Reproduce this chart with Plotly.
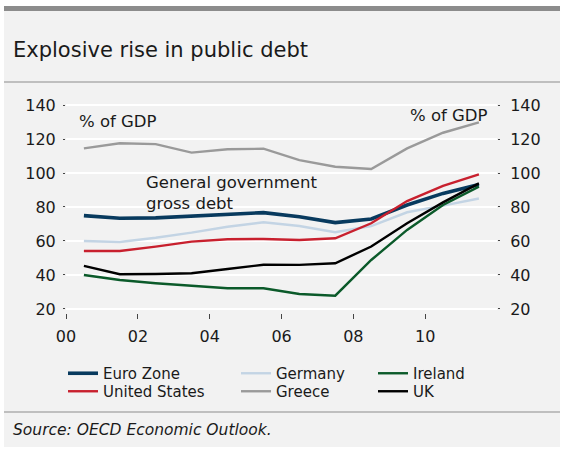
import plotly.graph_objects as go

years = [2000, 2001, 2002, 2003, 2004, 2005, 2006, 2007, 2008, 2009, 2010, 2011]
euro_zone = [74.9, 73.4, 73.6, 74.7, 75.5, 76.7, 74.3, 70.8, 72.9, 81.2, 88.0, 93.3]
germany = [60.0, 59.4, 61.9, 64.9, 68.4, 71.0, 68.8, 65.1, 68.8, 76.9, 80.8, 85.0]
ireland = [40.0, 37.0, 35.1, 33.7, 32.2, 32.2, 28.8, 27.8, 48.8, 66.5, 81.2, 92.0]
united_states = [54.1, 54.1, 56.7, 59.6, 61.0, 61.2, 60.6, 61.6, 70.4, 83.5, 92.4, 99.2]
greece = [114.5, 117.5, 117.0, 112.0, 114.0, 114.3, 107.6, 103.7, 102.4, 114.5, 123.7, 129.8]
uk = [45.3, 40.4, 40.6, 41.0, 43.5, 46.0, 45.9, 46.9, 56.7, 70.4, 82.7, 93.9]

tick_years = [2000, 2002, 2004, 2006, 2008, 2010]
tick_text = ["00", "02", "04", "06", "08", "10"]
y_ticks = [20, 40, 60, 80, 100, 120, 140]

FONT = "DejaVu Sans"
TXT = "#1a1a1a"
W, H = 573, 450
ML, MR, MT, MB = 66, 76, 102, 137
PW, PH = W - ML - MR, H - MT - MB

def px_x(px):
    return (px - ML) / PW

def px_y(py):
    return (H - MB - py) / PH

x_mid = [f"{y}-07-01" for y in years]

# name, values, colour, width, legend id, legend left px, legend top px
series = [
    ("Euro Zone", euro_zone, "#083a5e", 3.6, "legend", 63, 357),
    ("Germany", germany, "#c3d4e4", 2.4, "legend2", 236, 357),
    ("Ireland", ireland, "#0b5a2a", 2.4, "legend3", 373, 357),
    ("United States", united_states, "#c8202e", 2.4, "legend4", 63, 375),
    ("Greece", greece, "#9a9a9a", 2.4, "legend5", 236, 375),
    ("UK", uk, "#000000", 2.4, "legend6", 373, 375),
]

fig = go.Figure()
for name, vals, col, wdt, lg, lx, ly in series:
    fig.add_trace(go.Scatter(
        x=x_mid, y=vals, name=name, mode="lines",
        line=dict(color=col, width=wdt), legend=lg, hoverinfo="skip",
    ))
# invisible helper trace so the right-hand axis is drawn
fig.add_trace(go.Scatter(x=x_mid, y=greece, yaxis="y2", mode="lines",
                         line=dict(color="rgba(0,0,0,0)", width=0),
                         showlegend=False, hoverinfo="skip"))

yr = [17.6, 141.8]
axis_font = dict(family=FONT, size=16, color=TXT)

fig.update_layout(
    width=W, height=H,
    margin=dict(l=ML, r=MR, t=MT, b=MB, autoexpand=False),
    paper_bgcolor="white",
    plot_bgcolor="#f2f2f2",
    font=dict(family=FONT, color=TXT),
    xaxis=dict(
        type="date",
        range=["2000-01-01", "2012-01-01"],
        tickvals=[f"{y}-01-01" for y in tick_years],
        ticktext=tick_text,
        ticks="outside", ticklen=5, tickcolor="#444", tickwidth=1,
        showgrid=False, zeroline=False, showline=False,
        tickfont=axis_font, ticklabelstandoff=4,
    ),
    yaxis=dict(
        range=yr, tickvals=y_ticks,
        ticks="outside", ticklen=2, tickcolor="#444", tickwidth=1,
        showgrid=True, gridcolor="white", gridwidth=1.5,
        zeroline=False, showline=False,
        tickfont=axis_font, ticklabelstandoff=4,
    ),
    yaxis2=dict(
        range=yr, tickvals=y_ticks, overlaying="y", side="right", anchor="x",
        ticks="outside", ticklen=2, tickcolor="#444", tickwidth=1,
        showgrid=False, zeroline=False, showline=False,
        tickfont=axis_font, ticklabelstandoff=7,
    ),
)

leg_common = dict(
    orientation="v", xref="paper", yref="paper",
    xanchor="left", yanchor="top", bgcolor="rgba(0,0,0,0)",
    font=dict(family=FONT, size=15, color=TXT), tracegroupgap=0,
    itemclick=False, itemdoubleclick=False,
)
fig.update_layout(**{
    lg: dict(x=px_x(lx), y=px_y(ly), **leg_common)
    for _, _, _, _, lg, lx, ly in series
})

shapes = [
    dict(type="rect", xref="paper", yref="paper", x0=px_x(4), x1=px_x(560),
         y0=px_y(447), y1=px_y(6), fillcolor="#f2f2f2", line=dict(width=0), layer="below"),
    dict(type="rect", xref="paper", yref="paper", x0=px_x(4), x1=px_x(560),
         y0=px_y(11), y1=px_y(6), fillcolor="#8c8c8c", line=dict(width=0), layer="below"),
    dict(type="line", xref="paper", yref="paper", x0=px_x(4), x1=px_x(560),
         y0=px_y(82), y1=px_y(82), line=dict(color="#8c8c8c", width=1.2), layer="below"),
    dict(type="line", xref="paper", yref="paper", x0=px_x(4), x1=px_x(560),
         y0=px_y(412), y1=px_y(412), line=dict(color="#8c8c8c", width=1.2), layer="below"),
]
fig.update_layout(shapes=shapes)

ann_font = dict(family=FONT, size=16.5, color=TXT)
annotations = [
    dict(text="Explosive rise in public debt", xref="paper", yref="paper",
         x=px_x(11), y=px_y(50), xanchor="left", yanchor="middle", showarrow=False,
         font=dict(family=FONT, size=21, color=TXT)),
    dict(text="% of GDP", xref="paper", yref="paper",
         x=px_x(77), y=px_y(121), xanchor="left", yanchor="middle", showarrow=False, font=ann_font),
    dict(text="% of GDP", xref="paper", yref="paper",
         x=px_x(490), y=px_y(115), xanchor="right", yanchor="middle", showarrow=False, font=ann_font),
    dict(text="General government<br>gross debt", xref="paper", yref="paper",
         x=px_x(144), y=px_y(193), xanchor="left", yanchor="middle", align="left",
         showarrow=False, font=ann_font),
    dict(text="<i>Source: OECD Economic Outlook.</i>", xref="paper", yref="paper",
         x=px_x(11), y=px_y(430), xanchor="left", yanchor="middle", showarrow=False,
         font=dict(family=FONT, size=15.5, color=TXT)),
]
fig.update_layout(annotations=annotations)

fig.write_html("out.html")
